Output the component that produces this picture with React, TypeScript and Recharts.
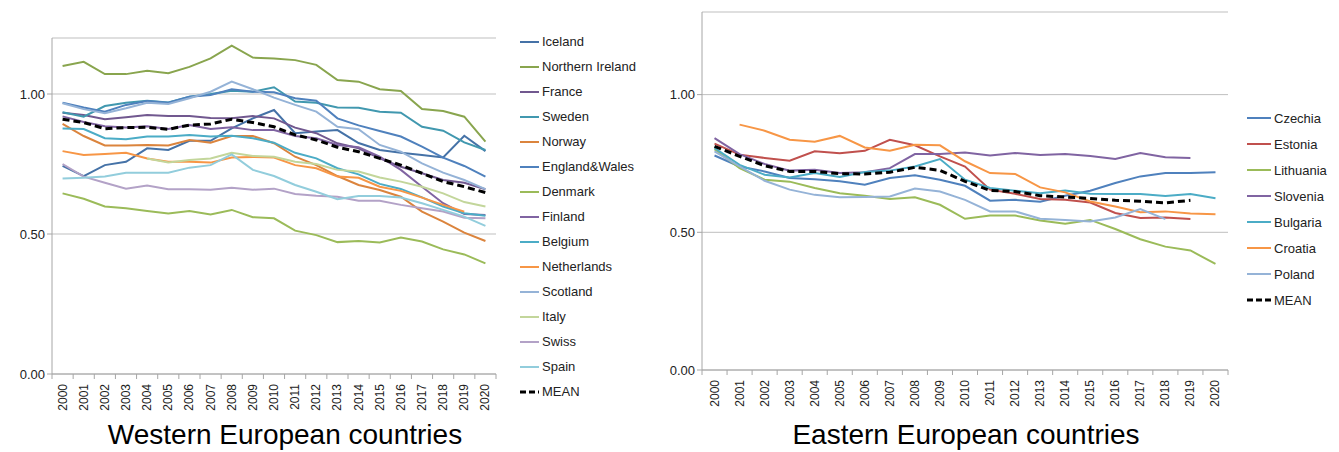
import { LineChart, Line, XAxis, YAxis, CartesianGrid } from 'recharts';

const years = ['2000', '2001', '2002', '2003', '2004', '2005', '2006', '2007', '2008', '2009', '2010',
    '2011', '2012', '2013', '2014', '2015', '2016', '2017', '2018', '2019', '2020'];

const yTicks = [0, 0.5, 1];

// Western Europe
const iceland = [0.743, 0.707, 0.746, 0.758, 0.806, 0.80, 0.833, 0.833, 0.877, 0.913, 0.943, 0.86, 0.866, 0.871, 0.825, 0.80, 0.79, 0.782, 0.773, 0.851, 0.796];
const northernIreland = [1.10, 1.115, 1.071, 1.071, 1.083, 1.074, 1.097, 1.127, 1.173, 1.13, 1.127, 1.121, 1.104, 1.05, 1.044, 1.017, 1.011, 0.946, 0.939, 0.919, 0.83];
const france = [0.933, 0.925, 0.91, 0.917, 0.925, 0.921, 0.921, 0.914, 0.913, 0.921, 0.913, 0.88, 0.86, 0.824, 0.806, 0.77, 0.74, 0.717, 0.693, 0.683, 0.66];
const sweden = [0.935, 0.919, 0.957, 0.969, 0.976, 0.97, 0.99, 1.0, 1.012, 1.008, 1.024, 0.973, 0.969, 0.952, 0.951, 0.937, 0.933, 0.883, 0.869, 0.827, 0.80];
const norway = [0.893, 0.85, 0.816, 0.816, 0.818, 0.816, 0.836, 0.826, 0.85, 0.85, 0.824, 0.776, 0.746, 0.707, 0.675, 0.657, 0.633, 0.58, 0.544, 0.505, 0.475];
const englandWales = [0.969, 0.952, 0.937, 0.961, 0.975, 0.969, 0.99, 0.996, 1.017, 1.008, 1.006, 0.985, 0.976, 0.913, 0.888, 0.868, 0.848, 0.812, 0.773, 0.743, 0.705];
const denmark = [0.645, 0.626, 0.598, 0.592, 0.582, 0.573, 0.582, 0.570, 0.586, 0.56, 0.556, 0.512, 0.496, 0.471, 0.475, 0.470, 0.487, 0.473, 0.445, 0.427, 0.395];
const finland = [0.92, 0.90, 0.885, 0.88, 0.885, 0.875, 0.889, 0.875, 0.881, 0.871, 0.871, 0.85, 0.842, 0.818, 0.81, 0.776, 0.729, 0.669, 0.61, 0.571, 0.568];
const belgium = [0.877, 0.875, 0.842, 0.838, 0.848, 0.848, 0.854, 0.848, 0.851, 0.842, 0.826, 0.79, 0.77, 0.735, 0.713, 0.679, 0.661, 0.631, 0.598, 0.574, 0.565];
const netherlands = [0.796, 0.782, 0.786, 0.79, 0.77, 0.758, 0.758, 0.755, 0.773, 0.775, 0.773, 0.746, 0.735, 0.705, 0.701, 0.669, 0.654, 0.63, 0.604, 0.58, null];
const scotland = [0.967, 0.946, 0.931, 0.949, 0.969, 0.964, 0.985, 1.008, 1.044, 1.017, 0.987, 0.961, 0.937, 0.883, 0.874, 0.818, 0.794, 0.752, 0.719, 0.693, 0.66];
const italy = [null, null, null, null, 0.77, 0.755, 0.764, 0.77, 0.79, 0.779, 0.776, 0.758, 0.75, 0.729, 0.723, 0.702, 0.687, 0.669, 0.645, 0.614, 0.598];
const swiss = [0.75, 0.705, 0.683, 0.662, 0.673, 0.66, 0.66, 0.658, 0.665, 0.658, 0.662, 0.643, 0.637, 0.633, 0.619, 0.619, 0.604, 0.592, 0.58, 0.558, 0.556];
const spain = [0.698, 0.701, 0.705, 0.719, 0.719, 0.719, 0.737, 0.746, 0.784, 0.729, 0.707, 0.675, 0.651, 0.624, 0.636, 0.636, 0.63, 0.61, 0.586, 0.562, 0.529];
const westMean = [0.91, 0.898, 0.876, 0.88, 0.881, 0.874, 0.889, 0.893, 0.91, 0.898, 0.883, 0.854, 0.836, 0.81, 0.794, 0.77, 0.746, 0.717, 0.687, 0.669, 0.648];

// Eastern Europe
const czechia = [0.779, 0.739, 0.721, 0.697, 0.693, 0.685, 0.673, 0.697, 0.707, 0.691, 0.669, 0.615, 0.618, 0.611, 0.633, 0.651, 0.679, 0.703, 0.715, 0.715, 0.718];
const estonia = [0.822, 0.782, 0.77, 0.76, 0.794, 0.787, 0.796, 0.836, 0.816, 0.776, 0.739, 0.655, 0.64, 0.621, 0.618, 0.608, 0.57, 0.552, 0.554, 0.548, null];
const lithuania = [0.802, 0.733, 0.691, 0.684, 0.661, 0.642, 0.633, 0.621, 0.627, 0.6, 0.549, 0.561, 0.561, 0.543, 0.531, 0.545, 0.512, 0.475, 0.448, 0.434, 0.385];
const slovenia = [0.842, 0.784, 0.748, 0.724, 0.727, 0.715, 0.718, 0.733, 0.784, 0.784, 0.79, 0.779, 0.788, 0.781, 0.784, 0.777, 0.766, 0.788, 0.773, 0.77, null];
const bulgaria = [0.806, 0.745, 0.709, 0.699, 0.715, 0.701, 0.719, 0.724, 0.739, 0.766, 0.691, 0.661, 0.651, 0.642, 0.652, 0.64, 0.639, 0.639, 0.632, 0.639, 0.624];
const croatia = [null, 0.891, 0.869, 0.836, 0.829, 0.85, 0.808, 0.796, 0.818, 0.816, 0.758, 0.715, 0.712, 0.663, 0.645, 0.612, 0.594, 0.573, 0.576, 0.568, 0.566];
const poland = [0.794, 0.739, 0.687, 0.655, 0.636, 0.627, 0.628, 0.63, 0.659, 0.648, 0.618, 0.576, 0.576, 0.549, 0.545, 0.539, 0.554, 0.584, 0.548, null, null];
const eastMean = [0.812, 0.776, 0.742, 0.721, 0.721, 0.713, 0.712, 0.718, 0.736, 0.725, 0.685, 0.652, 0.648, 0.633, 0.628, 0.623, 0.616, 0.613, 0.607, 0.616, null];

type Series = { name: string, values: Array<number | null>, color: string, mean?: boolean };

const westSeries: Series[] = [
    { name: 'Iceland', values: iceland, color: '#4572A7' },
    { name: 'Northern Ireland', values: northernIreland, color: '#89A54E' },
    { name: 'France', values: france, color: '#71588F' },
    { name: 'Sweden', values: sweden, color: '#4198AF' },
    { name: 'Norway', values: norway, color: '#DB843D' },
    { name: 'England&Wales', values: englandWales, color: '#4F81BD' },
    { name: 'Denmark', values: denmark, color: '#9BBB59' },
    { name: 'Finland', values: finland, color: '#8064A2' },
    { name: 'Belgium', values: belgium, color: '#4BACC6' },
    { name: 'Netherlands', values: netherlands, color: '#F79646' },
    { name: 'Scotland', values: scotland, color: '#95B3D7' },
    { name: 'Italy', values: italy, color: '#C3D69B' },
    { name: 'Swiss', values: swiss, color: '#B3A2C7' },
    { name: 'Spain', values: spain, color: '#92CDDC' },
    { name: 'MEAN', values: westMean, color: '#000000', mean: true },
];

const eastSeries: Series[] = [
    { name: 'Czechia', values: czechia, color: '#4F81BD' },
    { name: 'Estonia', values: estonia, color: '#C0504D' },
    { name: 'Lithuania', values: lithuania, color: '#9BBB59' },
    { name: 'Slovenia', values: slovenia, color: '#8064A2' },
    { name: 'Bulgaria', values: bulgaria, color: '#4BACC6' },
    { name: 'Croatia', values: croatia, color: '#F79646' },
    { name: 'Poland', values: poland, color: '#95B3D7' },
    { name: 'MEAN', values: eastMean, color: '#000000', mean: true },
];

const FONT = '"Liberation Sans", Arial, sans-serif';
const AXIS = '#A6A6A6';

const buildRows = (series: Series[]) =>
    years.map((year, i) => {
        const row: Record<string, any> = { year };
        series.forEach(s => { row[s.name] = s.values[i]; });
        return row;
    });

const makeYearTick = (axisY: number, step: number) => (props: any) => {
    const { x, payload, index } = props;
    const ty = axisY + 10;
    return (
        <g>
            <line x1={x - step / 2} x2={x - step / 2} y1={axisY} y2={axisY + 5} stroke={AXIS} />
            {index === years.length - 1 &&
                <line x1={x + step / 2} x2={x + step / 2} y1={axisY} y2={axisY + 5} stroke={AXIS} />}
            <text x={x} y={ty} transform={`rotate(-90 ${x} ${ty})`} textAnchor="end"
                dominantBaseline="central" fontSize={12} fill="#222" fontFamily={FONT}>
                {payload.value}
            </text>
        </g>
    );
};

const LegendBox = ({ series, left, top, gap, lineLen }: {
    series: Series[], left: number, top: number, gap: number, lineLen: number }) => (
    <div style={{ position: 'absolute', left, top, fontFamily: FONT, fontSize: 13, color: '#222' }}>
        {series.map(s => (
            <div key={s.name} style={{ height: gap, display: 'flex', alignItems: 'center', whiteSpace: 'nowrap' }}>
                <svg width={lineLen + 2} height={6} style={{ marginRight: 1 }}>
                    <line x1={0} x2={lineLen} y1={3} y2={3} stroke={s.color}
                        strokeWidth={s.mean ? 3 : 2} strokeDasharray={s.mean ? '6 3' : undefined} />
                </svg>
                {s.name}
            </div>
        ))}
    </div>
);

const CountryChart = ({ series, left, width, margin, domain, plotWidth, axisY }: {
    series: Series[], left: number, width: number,
    margin: { top: number, right: number, bottom: number, left: number },
    domain: [number, number], plotWidth: number, axisY: number }) => {
    const rows = buildRows(series);
    const step = plotWidth / years.length;
    return (
        <div style={{ position: 'absolute', left, top: 0 }}>
            <LineChart width={width} height={452} data={rows} margin={margin}>
                <CartesianGrid vertical={false} stroke="#BFBFBF" />
                <XAxis dataKey="year" interval={0} height={40} tickLine={false} tickSize={0}
                    padding={{ left: step / 2, right: step / 2 }}
                    axisLine={{ stroke: AXIS }} tick={makeYearTick(axisY, step)} />
                <YAxis domain={domain} ticks={yTicks} width={52} allowDataOverflow={true}
                    axisLine={{ stroke: AXIS }} tickLine={{ stroke: AXIS }} tickSize={5}
                    tickFormatter={(v: number) => v.toFixed(2)}
                    tick={{ fontSize: 13, fill: '#222', fontFamily: FONT }} />
                {series.map(s => (
                    <Line key={s.name} type="linear" dataKey={s.name} stroke={s.color}
                        strokeWidth={s.mean ? 3 : 2} strokeDasharray={s.mean ? '7 4' : undefined}
                        dot={false} activeDot={false} isAnimationActive={false} />
                ))}
            </LineChart>
        </div>
    );
};

const Title = ({ text, center }: { text: string, center: number }) => (
    <div style={{ position: 'absolute', left: center - 250, width: 500, top: 421, textAlign: 'center',
        fontFamily: FONT, fontSize: 28, lineHeight: '28px', color: '#000' }}>
        {text}
    </div>
);

export default function App() {
    return (
        <div style={{ position: 'absolute', left: 0, top: 0, width: 1339, height: 452, background: '#fff', overflow: 'hidden' }}>
            <CountryChart series={westSeries} left={0} width={680}
                margin={{ top: 38, right: 184, bottom: 38, left: 0 }}
                domain={[0, 1.2]} plotWidth={444} axisY={374} />
            <CountryChart series={eastSeries} left={650} width={689}
                margin={{ top: 12, right: 111, bottom: 42, left: 0 }}
                domain={[0, 1.3]} plotWidth={526} axisY={370} />
            <LegendBox series={westSeries} left={520} top={29} gap={25} lineLen={19} />
            <LegendBox series={eastSeries} left={1247} top={105} gap={26} lineLen={24} />
            <Title text="Western European countries" center={285} />
            <Title text="Eastern European countries" center={966} />
        </div>
    );
}
